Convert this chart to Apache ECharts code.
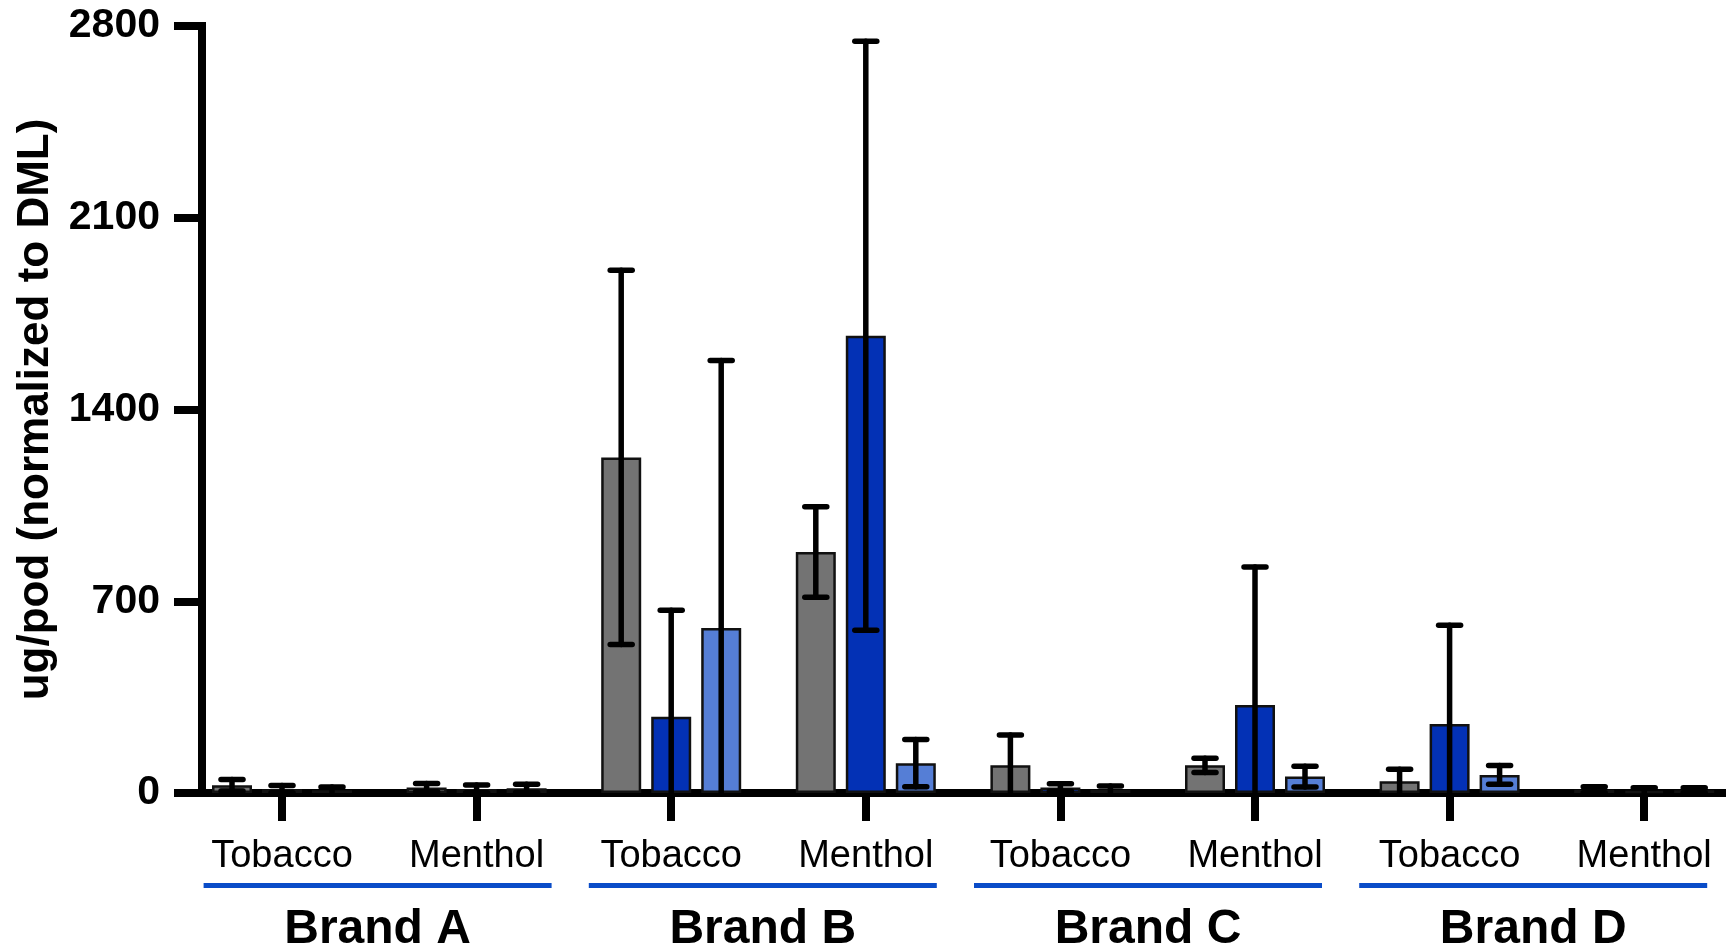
<!DOCTYPE html>
<html>
<head>
<meta charset="utf-8">
<title>ug/pod by brand and flavour</title>
<script src="https://cdn.jsdelivr.net/npm/echarts@6/dist/echarts.min.js"></script>
<style>
  html, body { margin: 0; padding: 0; background: #ffffff; }
  #chart { width: 1731px; height: 948px; }
</style>
</head>
<body>
<div id="chart"></div>
<script>
// Flavour categories (two per brand) and the brand groups beneath them
const flavours = ['Tobacco', 'Menthol', 'Tobacco', 'Menthol', 'Tobacco', 'Menthol', 'Tobacco', 'Menthol'];
const brands = ['Brand A', 'Brand B', 'Brand C', 'Brand D'];

// Y axis ticks
const yTicks = [0, 700, 1400, 2100, 2800];

// Means and standard deviations per bar group (grey, dark blue, light blue)
const greyMean = [28, 20, 1225, 880, 101, 101, 43, 12];
const greySd = [21, 15, 683, 165, 111, 26, 44, 11];
const darkMean = [14, 15, 278, 1669, 20, 321, 252, 8];
const darkSd = [13, 14, 389, 1075, 14, 504, 360, 11];
const lightMean = [10, 17, 602, 109, 12, 60, 66, 10];
const lightSd = [12, 15, 977, 86, 14, 38, 34, 9];

const FONT = '"Liberation Sans", Arial, Helvetica, sans-serif';
const COLORS = ['#737373', '#0331b5', '#557ed6'];
const BRAND_LINE = '#0a4cc8';
const BAR_W = 40;
const BAR_GAP = 10;

const groups = [
  { name: 'grey', mean: greyMean, sd: greySd },
  { name: 'dark blue', mean: darkMean, sd: darkSd },
  { name: 'light blue', mean: lightMean, sd: lightSd }
];

const chart = echarts.init(document.getElementById('chart'), null, { renderer: 'canvas' });

const barSeries = groups.map((g, k) => ({
  type: 'bar',
  name: g.name,
  xAxisIndex: 0,
  yAxisIndex: 0,
  barWidth: BAR_W,
  barGap: (BAR_GAP / BAR_W * 100) + '%',
  data: g.mean,
  itemStyle: { color: COLORS[k], borderColor: '#111111', borderWidth: 2.5 },
  z: 2,
  silent: true
}));

// Error bars: mean ± SD, lower end clipped at zero (no cap there)
const errorSeries = groups.map((g, k) => ({
  type: 'custom',
  name: g.name + ' sd',
  xAxisIndex: 0,
  yAxisIndex: 0,
  z: 5,
  silent: true,
  data: g.mean.map((m, i) => [i, m, g.sd[i]]),
  renderItem: function (params, api) {
    const i = api.value(0);
    const m = api.value(1);
    const s = api.value(2);
    const hi = m + s;
    const lo = Math.max(0, m - s);
    const off = (k - 1) * (BAR_W + BAR_GAP);
    const x = api.coord([i, m])[0] + off;
    const yHi = api.coord([i, hi])[1];
    const yLo = api.coord([i, lo])[1];
    const capHalf = 11;
    const style = { stroke: '#000000', lineWidth: 5.5, lineCap: 'round' };
    const children = [
      { type: 'line', shape: { x1: x, y1: yLo, x2: x, y2: yHi }, style: style },
      { type: 'line', shape: { x1: x - capHalf, y1: yHi, x2: x + capHalf, y2: yHi }, style: style }
    ];
    if (lo > 0) {
      children.push({ type: 'line', shape: { x1: x - capHalf, y1: yLo, x2: x + capHalf, y2: yLo }, style: style });
    }
    return { type: 'group', children: children };
  }
}));

const option = {
  backgroundColor: '#ffffff',
  animation: false,
  grid: [
    // plotting band for the bars (eight equal category slots)
    { left: 184.7, width: 1556.8, top: 26, height: 767, containLabel: false, outerBoundsMode: 'none' },
    // axis frame
    { left: 202, right: 9, top: 26, height: 767, containLabel: false, outerBoundsMode: 'none' },
    // brand group band
    { left: 185, width: 1540.8, top: 26, height: 767, containLabel: false, outerBoundsMode: 'none' }
  ],
  xAxis: [
    {
      type: 'category',
      gridIndex: 0,
      data: flavours,
      position: 'bottom',
      axisLine: { show: false },
      axisTick: { show: true, alignWithLabel: true, length: 28, lineStyle: { color: '#000', width: 8 } },
      axisLabel: { interval: 0, margin: 45, color: '#000', fontSize: 38, fontFamily: FONT },
      splitLine: { show: false }
    },
    {
      type: 'category',
      gridIndex: 2,
      data: brands,
      position: 'bottom',
      axisLine: { show: false },
      axisTick: { show: false },
      axisLabel: {
        interval: 0,
        margin: 90,
        formatter: function (v) { return '{bar| }\n{name|' + v + '}'; },
        rich: {
          bar: { width: 348, height: 5, lineHeight: 5, backgroundColor: BRAND_LINE, fontSize: 1 },
          name: { fontSize: 48, fontWeight: 'bold', color: '#000', fontFamily: FONT, lineHeight: 84, align: 'center' }
        }
      },
      splitLine: { show: false }
    },
    {
      type: 'value',
      gridIndex: 1,
      min: 0,
      max: 1,
      axisLine: { show: true, onZero: false, lineStyle: { color: '#000', width: 8, cap: 'square' } },
      axisTick: { show: false },
      axisLabel: { show: false },
      splitLine: { show: false }
    }
  ],
  yAxis: [
    {
      type: 'value',
      gridIndex: 0,
      min: yTicks[0],
      max: yTicks[yTicks.length - 1],
      interval: yTicks[1] - yTicks[0],
      show: false
    },
    {
      type: 'value',
      gridIndex: 1,
      min: yTicks[0],
      max: yTicks[yTicks.length - 1],
      interval: yTicks[1] - yTicks[0],
      name: 'ug/pod (normalized to DML)',
      nameLocation: 'middle',
      nameRotate: 90,
      nameGap: 127,
      nameTextStyle: { fontSize: 44, fontWeight: 'bold', color: '#000', fontFamily: FONT },
      axisLine: { show: true, lineStyle: { color: '#000', width: 8, cap: 'square' } },
      axisTick: { show: true, length: 28, lineStyle: { color: '#000', width: 8 } },
      axisLabel: {
        margin: 42, color: '#000', fontSize: 41, fontWeight: 'bold', fontFamily: FONT,
        formatter: function (v) { return String(v); }
      },
      splitLine: { show: false }
    },
    {
      type: 'value',
      gridIndex: 2,
      min: 0,
      max: 1,
      show: false
    }
  ],
  series: barSeries.concat(errorSeries)
};

chart.setOption(option);
</script>
</body>
</html>
